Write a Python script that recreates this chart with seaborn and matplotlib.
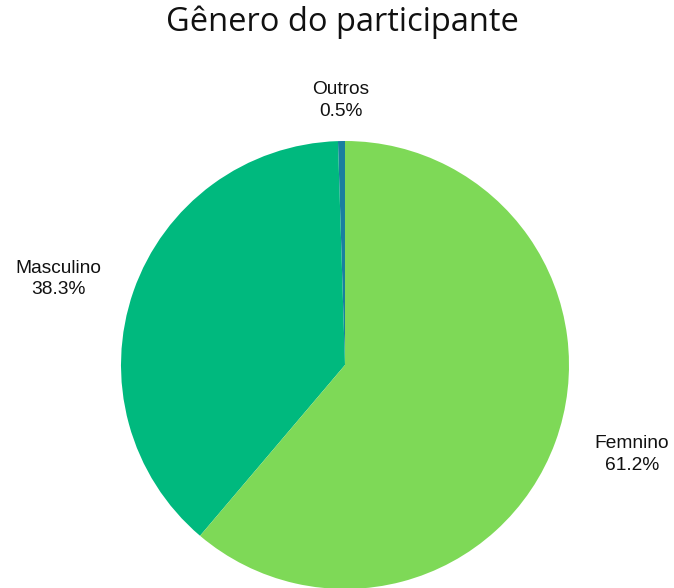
import matplotlib
matplotlib.use("Agg")
import matplotlib.pyplot as plt
import seaborn as sns

sns.set_theme(style="white")
plt.rcParams['font.family'] = ['Liberation Sans', 'DejaVu Sans']

categories = ["Outros", "Masculino", "Femnino"]
values = [0.5, 38.3, 61.2]
colors = ["#1A7FA0", "#00B97E", "#7ED957"]
label_pos = [(-0.018, 1.18), (-1.28, 0.384), (1.28, -0.40)]

fig = plt.figure(figsize=(6.74, 5.88), dpi=100)
ax = fig.add_axes([121/674, -1/588, 448/674, 448/588])
ax.pie(values, colors=colors, startangle=90, counterclock=True, radius=1,
       wedgeprops=dict(linewidth=0))
ax.set_xlim(-1, 1)
ax.set_ylim(-1, 1)
ax.set_aspect('equal')
ax.axis('off')
for cat, v, (x, y) in zip(categories, values, label_pos):
    ax.text(x, y, f"{cat}\n{v:.1f}%", ha='center', va='center', fontsize=13.8,
            color='#111111', linespacing=1.35, clip_on=False)

fig.text(342/674, 1 - 22/588, "Gênero do participante", ha='center', va='center',
         fontsize=23.5, family=['Open Sans', 'DejaVu Sans'], color='#111111')
fig.savefig("out.png", dpi=100)
